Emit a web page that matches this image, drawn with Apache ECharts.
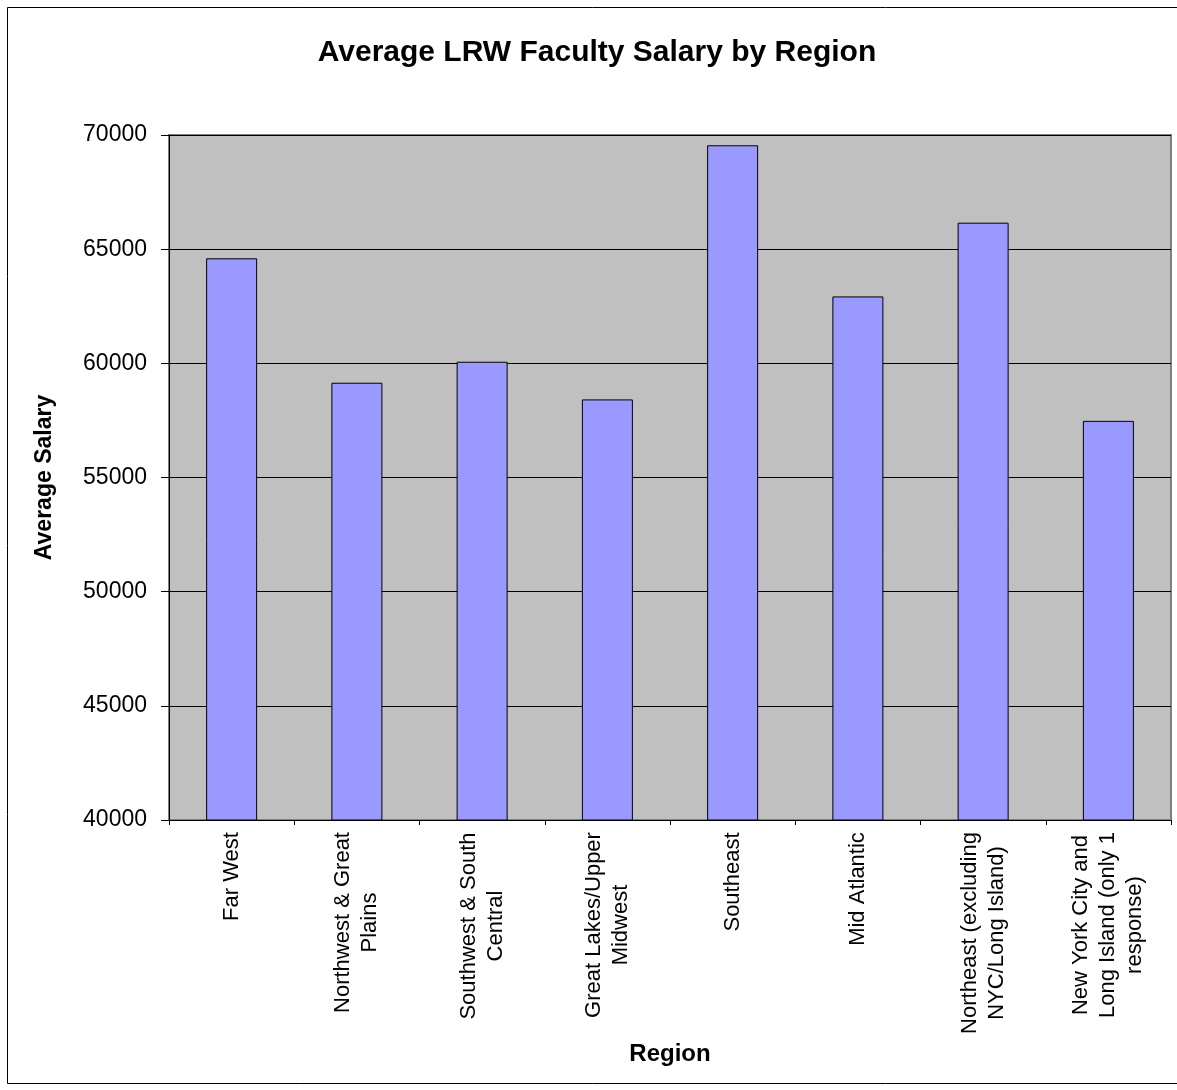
<!DOCTYPE html>
<html>
<head>
<meta charset="utf-8">
<script src="https://cdn.jsdelivr.net/npm/echarts@6/dist/echarts.min.js"></script>
<style>
  html, body { margin: 0; padding: 0; background: #fff; }
  #main { width: 1177px; height: 1090px; }
</style>
</head>
<body>
<div id="main"></div>
<script>
const regions = [
  'Far West',
  'Northwest & Great\nPlains',
  'Southwest & South\nCentral',
  'Great Lakes/Upper\nMidwest',
  'Southeast',
  'Mid Atlantic',
  'Northeast (excluding\nNYC/Long Island)',
  'New York City and\nLong Island (only 1\nresponse)'
];
const avgSalary = [64600, 59150, 60070, 58420, 69550, 62930, 66160, 57480];
const yTicks = { min: 40000, max: 70000, step: 5000 };

const FONT = '"Liberation Sans", Arial, sans-serif';

// each label block gets its own width so the lines centre on each other
const ctx = document.createElement('canvas').getContext('2d');
ctx.font = '22px ' + FONT;
const rich = {};
regions.forEach(function (r, i) {
  const w = Math.max.apply(null, r.split('\n').map(function (s) { return ctx.measureText(s).width; }));
  rich['c' + i] = {
    width: Math.ceil(w),
    align: 'center',
    fontSize: 22,
    fontFamily: FONT,
    color: '#000',
    lineHeight: 27
  };
});

const chart = echarts.init(document.getElementById('main'), null, { renderer: 'canvas' });

var option = {
  backgroundColor: '#fff',
  animation: false,
  graphic: [{
    type: 'rect',
    shape: { x: 7.5, y: 7.5, width: 1200, height: 1076 },
    style: { fill: 'none', stroke: '#000', lineWidth: 1 },
    silent: true
  }, {
    type: 'text',
    x: 597,
    y: 38,
    style: {
      text: 'Average LRW Faculty Salary by Region',
      textAlign: 'center',
      textVerticalAlign: 'top',
      font: 'bold 30px ' + FONT,
      fill: '#000'
    }
  }],
  grid: {
    left: 169,
    right: 6,
    top: 135,
    bottom: 270,
    show: true,
    backgroundColor: '#C0C0C0',
    borderColor: '#808080',
    borderWidth: 2
  },
  xAxis: {
    type: 'category',
    data: regions,
    name: 'Region',
    nameLocation: 'middle',
    nameGap: 222,
    nameTextStyle: { fontSize: 24, fontWeight: 'bold', fontFamily: FONT, color: '#000' },
    axisLine: { show: true, lineStyle: { color: '#000', width: 1 } },
    axisTick: { show: true, length: 5, alignWithLabel: false, lineStyle: { color: '#000' } },
    axisLabel: {
      interval: 0,
      rotate: 90,
      margin: 12,
      formatter: function (value, idx) {
        return value.split('\n').map(function (s) { return '{c' + idx + '|' + s + '}'; }).join('\n');
      },
      rich: rich
    },
    splitLine: { show: false }
  },
  yAxis: {
    type: 'value',
    min: yTicks.min,
    max: yTicks.max,
    interval: yTicks.step,
    name: 'Average Salary',
    nameLocation: 'middle',
    nameRotate: 90,
    nameGap: 113,
    nameTextStyle: { fontSize: 23, fontWeight: 'bold', fontFamily: FONT, color: '#000' },
    axisLine: { show: true, lineStyle: { color: '#000', width: 1 } },
    axisTick: { show: true, length: 8, lineStyle: { color: '#000' } },
    axisLabel: {
      fontSize: 23,
      fontFamily: FONT,
      color: '#000',
      margin: 22,
      formatter: function (v) { return String(v); }
    },
    splitLine: { show: true, lineStyle: { color: '#000', width: 1 } }
  },
  series: [{
    name: 'Average Salary',
    type: 'bar',
    data: avgSalary,
    barWidth: 51,
    itemStyle: { color: '#9999FF', borderColor: '#000', borderWidth: 1 }
  }]
};

chart.setOption(option);
</script>
</body>
</html>
